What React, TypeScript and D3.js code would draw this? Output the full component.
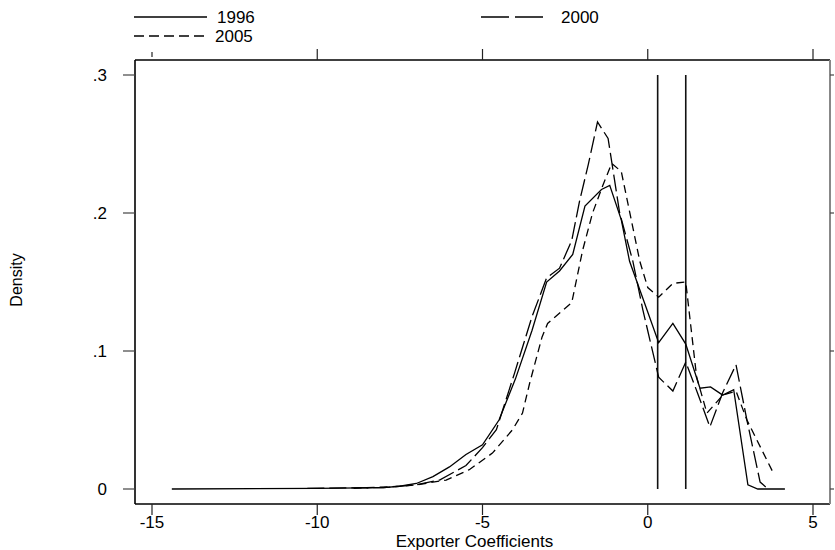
import React from "react";
import * as d3 from "d3";

// ---- data ----
const x1996 = [-14.4, -10, -8, -7.5, -7, -6.5, -6, -5.5, -5, -4.5, -4, -3.5, -3.06, -2.67, -2.27, -1.9, -1.4, -1.15, -0.8, -0.55, -0.1, 0.33, 0.76, 1.15, 1.58, 1.9, 2.27, 2.6, 3.03, 3.33, 4.15];
const d1996 = [0, 0.0005, 0.001, 0.002, 0.004, 0.009, 0.016, 0.025, 0.032, 0.05, 0.08, 0.115, 0.15, 0.158, 0.17, 0.205, 0.217, 0.22, 0.195, 0.165, 0.135, 0.106, 0.12, 0.105, 0.073, 0.074, 0.068, 0.072, 0.003, 0, 0];

const x2000 = [-10.3, -8, -7, -6.3, -5.5, -5, -4.58, -4.03, -3.5, -3.06, -2.67, -2.3, -2.06, -1.8, -1.52, -1.2, -0.85, -0.45, -0.15, 0.33, 0.76, 1.15, 1.5, 1.88, 2.27, 2.67, 3.0, 3.4, 3.64];
const d2000 = [0.0005, 0.001, 0.003, 0.0065, 0.017, 0.03, 0.043, 0.084, 0.125, 0.153, 0.16, 0.18, 0.209, 0.235, 0.266, 0.254, 0.2, 0.165, 0.13, 0.081, 0.071, 0.092, 0.07, 0.045, 0.07, 0.09, 0.05, 0.005, 0];

const x2005 = [-8.9, -7.5, -7, -6.1, -5.4, -4.7, -4.09, -3.79, -3.57, -3.2, -3.03, -2.3, -1.97, -1.67, -1.36, -1.09, -0.8, -0.24, 0.0, 0.33, 0.76, 1.15, 1.48, 1.79, 2.27, 2.67, 3.0, 3.79];
const d2005 = [0.0005, 0.002, 0.003, 0.0065, 0.014, 0.026, 0.043, 0.055, 0.077, 0.11, 0.12, 0.135, 0.173, 0.2, 0.22, 0.236, 0.23, 0.165, 0.146, 0.139, 0.149, 0.15, 0.081, 0.055, 0.068, 0.071, 0.05, 0.012];

const vLines = [0.3, 1.15];
const xTicks = [-15, -10, -5, 0, 5];
const xTickLabels = ["-15", "-10", "-5", "0", "5"];
const yTicks = [0, 0.1, 0.2, 0.3];
const yTickLabels = ["0", ".1", ".2", ".3"];
const seriesNames = ["1996", "2000", "2005"];

const FONT = "'Liberation Sans', Arial, sans-serif";

export default function App() {
  const x = d3.scaleLinear().domain([-15, 5]).range([152, 813]);
  const y = d3.scaleLinear().domain([0, 0.3]).range([489, 75]);
  const line = d3
    .line<[number, number]>()
    .x((p) => x(p[0]))
    .y((p) => y(p[1]));

  const series = [
    { name: seriesNames[0], xs: x1996, ds: d1996, dash: "none" },
    { name: seriesNames[1], xs: x2000, ds: d2000, dash: "17,5" },
    { name: seriesNames[2], xs: x2005, ds: d2005, dash: "8,5" },
  ];

  const left = 135, right = 830, top = 60, bottom = 504;

  return (
    <svg
      width={835}
      height={550}
      style={{ position: "absolute", left: 0, top: 0, background: "#fff" }}
    >
      {/* legend */}
      <g fontFamily={FONT} fontSize={17} fill="#000">
        <line x1={134} x2={207} y1={17} y2={17} stroke="#000" strokeWidth={1.3} />
        <text x={217} y={23}>{seriesNames[0]}</text>
        <line x1={481} x2={546} y1={17} y2={17} stroke="#000" strokeWidth={1.3} strokeDasharray="28,6" />
        <text x={561} y={23}>{seriesNames[1]}</text>
        <line x1={134} x2={207} y1={36} y2={36} stroke="#000" strokeWidth={1.3} strokeDasharray="10,5" />
        <text x={215} y={42}>{seriesNames[2]}</text>
      </g>

      {/* frame */}
      <line x1={left} x2={right} y1={top} y2={top} stroke="#000" strokeWidth={1.6} />
      <line x1={left} x2={left} y1={top} y2={bottom} stroke="#000" strokeWidth={1.6} />
      <line x1={left} x2={right} y1={bottom} y2={bottom} stroke="#000" strokeWidth={1.4} />
      <line x1={right} x2={right} y1={top} y2={bottom} stroke="#888" strokeWidth={2} />

      {/* y axis */}
      <g fontFamily={FONT} fontSize={17}>
        {yTicks.map((t, i) => (
          <g key={"y" + i}>
            <line x1={123} x2={left} y1={y(t)} y2={y(t)} stroke="#444" strokeWidth={1.2} />
            <line x1={right} x2={right + 4} y1={y(t)} y2={y(t)} stroke="#444" strokeWidth={1.2} />
            <text x={107} y={y(t) + 6} textAnchor="end">{yTickLabels[i]}</text>
          </g>
        ))}
      </g>
      <text
        fontFamily={FONT}
        fontSize={16}
        transform={`translate(22,280) rotate(-90)`}
        textAnchor="middle"
      >
        Density
      </text>

      {/* x axis */}
      <g fontFamily={FONT} fontSize={17}>
        {xTicks.map((t, i) => (
          <g key={"x" + i}>
            <line x1={x(t)} x2={x(t)} y1={bottom} y2={bottom + 11} stroke="#222" strokeWidth={1.2} />
            <line x1={x(t)} x2={x(t)} y1={t === -15 ? 52 : 49} y2={t === -15 ? 57 : top} stroke="#222" strokeWidth={1.2} />
            <text x={x(t)} y={528} textAnchor="middle">{xTickLabels[i]}</text>
          </g>
        ))}
      </g>
      <text fontFamily={FONT} fontSize={17} x={(left + right) / 2 - 8} y={547} textAnchor="middle">
        Exporter Coefficients
      </text>

      {/* vertical reference lines */}
      {vLines.map((v, i) => (
        <line key={"v" + i} x1={x(v)} x2={x(v)} y1={y(0.3)} y2={y(0)} stroke="#111" strokeWidth={1.6} />
      ))}

      {/* density curves */}
      {series.map((s) => (
        <path
          key={s.name}
          d={line(s.xs.map((v, i) => [v, s.ds[i]] as [number, number])) || ""}
          fill="none"
          stroke="#000"
          strokeWidth={1.3}
          strokeDasharray={s.dash}
        />
      ))}
    </svg>
  );
}
